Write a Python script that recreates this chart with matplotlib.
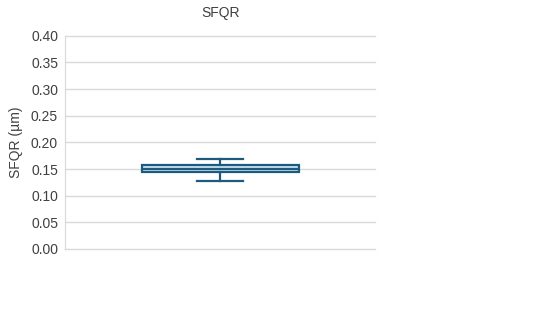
import matplotlib.pyplot as plt

# summary values
title = 'SFQR'
ylabel = 'SFQR (µm)'
whisker_low = 0.128
q1 = 0.144
median = 0.150
q3 = 0.158
whisker_high = 0.169
yticks = [0.00, 0.05, 0.10, 0.15, 0.20, 0.25, 0.30, 0.35, 0.40]

plt.rcParams['font.family'] = ['Liberation Sans', 'DejaVu Sans']

fig = plt.figure(figsize=(5.6, 3.2), dpi=100)
ax = fig.add_axes([0.116, 0.222, 0.554, 0.666])

stats = [{'whislo': whisker_low, 'q1': q1, 'med': median, 'q3': q3,
          'whishi': whisker_high, 'fliers': []}]
edge = '#1d5a7c'
ax.bxp(stats, positions=[1], widths=0.506, capwidths=0.148,
       patch_artist=True, showfliers=False,
       boxprops=dict(facecolor='#c9e2f5', edgecolor=edge, linewidth=1.6),
       medianprops=dict(color=edge, linewidth=1.6),
       whiskerprops=dict(color=edge, linewidth=1.6),
       capprops=dict(color=edge, linewidth=1.6))

ax.set_xlim(0.5, 1.5)
ax.set_ylim(0, 0.4)
ax.set_yticks(yticks)
ax.set_yticklabels([f'{t:.2f}' for t in yticks], fontsize=10, color='#404040')
ax.set_xticks([])
ax.yaxis.grid(True, color='#d9d9d9', linewidth=1)
for gl in ax.get_ygridlines():
    gl.set_clip_on(False)
ax.set_axisbelow(True)
for s in ['top', 'right', 'bottom']:
    ax.spines[s].set_visible(False)
ax.spines['left'].set_color('#d9d9d9')
ax.tick_params(axis='y', length=0, pad=5)

ax.set_ylabel(ylabel, fontsize=10, color='#404040', labelpad=6)
ax.set_title(title, fontsize=10, color='#404040', pad=13.5)

fig.savefig('out.png', dpi=100)
